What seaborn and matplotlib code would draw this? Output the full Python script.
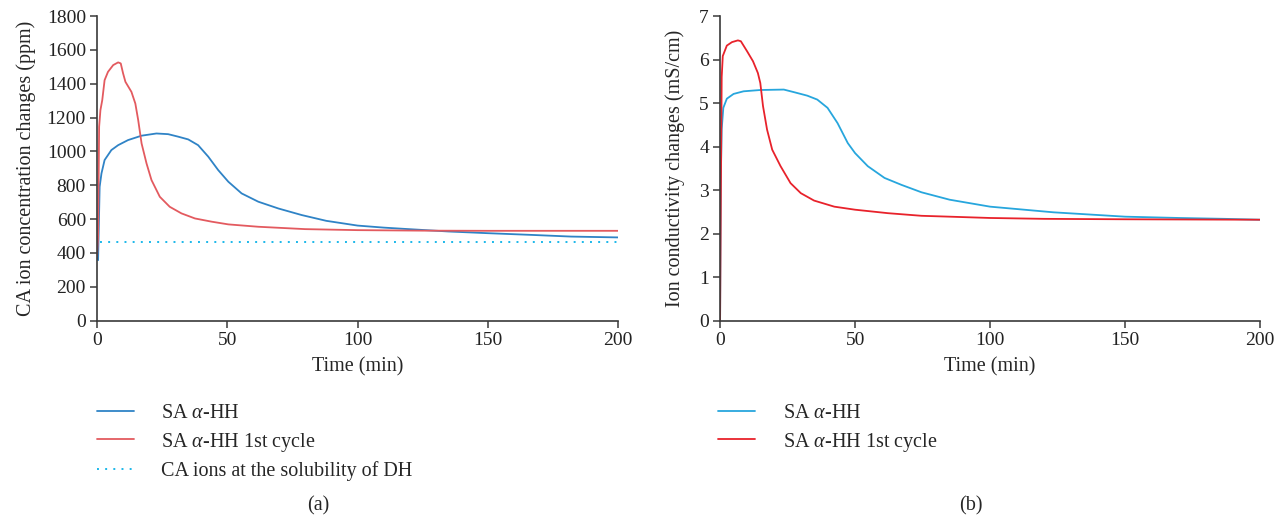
import matplotlib
matplotlib.use("Agg")
import matplotlib.pyplot as plt
import seaborn as sns

# ---- (a) CA ion concentration (ppm) ----
t_a_blue = [0, 0.4, 1, 1.7, 2.9, 5.5, 8.1, 11.9, 17.1, 22.8, 27.3, 31.2, 35, 38.8, 42.7,
            46.5, 50.4, 55.5, 61.9, 69.6, 78.6, 88, 100, 110, 119.6, 135, 150, 166.6,
            182, 200]
c_a_blue = [496, 358, 791, 870, 949, 1008, 1037, 1067, 1093, 1106, 1102, 1087, 1071,
            1037, 969, 890, 821, 752, 703, 663, 624, 590, 562, 550, 541, 527, 517, 507,
            497, 492]

t_a_red = [0, 0.4, 0.8, 1.3, 2, 2.9, 4.2, 6.2, 8.1, 9.1, 10, 10.9, 13.2, 14.7, 15.8,
           17.1, 19, 20.9, 24.1, 27.9, 32.4, 37.6, 44, 50.4, 61.9, 79.9, 100, 125, 150,
           200]
c_a_red = [380, 496, 1146, 1244, 1303, 1421, 1470, 1510, 1526, 1520, 1461, 1411, 1352,
           1283, 1185, 1047, 929, 831, 732, 673, 634, 604, 585, 569, 555, 541, 535, 532,
           531, 531]

t_dh = [1, 200]
c_dh = [465, 465]

# ---- (b) Ion conductivity (mS/cm) ----
t_b_blue = [0, 0.25, 0.6, 1.2, 2.5, 5, 8.7, 14.9, 23.6, 27.4, 32.3, 36, 39.8, 43.5, 47.3,
            50, 54.7, 60.9, 67.2, 74.6, 85, 100, 123.5, 150, 170, 187, 200]
k_b_blue = [0, 3.2, 4.4, 4.89, 5.1, 5.21, 5.27, 5.30, 5.31, 5.25, 5.17, 5.08, 4.89, 4.54,
            4.08, 3.85, 3.55, 3.28, 3.12, 2.95, 2.78, 2.62, 2.49, 2.39, 2.36, 2.34, 2.32]

t_b_red = [0, 0.3, 0.6, 1.0, 2.5, 4.4, 6.6, 7.7, 10, 12.2, 14, 14.9, 15.9, 17.4, 19.3,
           22.4, 26.1, 29.9, 34.8, 42.3, 50, 62.2, 74.6, 85, 100, 120, 150, 200]
k_b_red = [0, 3.0, 5.6, 6.08, 6.32, 6.40, 6.44, 6.42, 6.19, 5.96, 5.69, 5.46, 4.93, 4.39,
           3.93, 3.55, 3.16, 2.93, 2.76, 2.62, 2.55, 2.47, 2.41, 2.39, 2.36, 2.34, 2.33,
           2.32]

labels_a = [r"SA $\alpha$-HH", r"SA $\alpha$-HH 1st cycle", "CA ions at the solubility of DH"]
labels_b = [r"SA $\alpha$-HH", r"SA $\alpha$-HH 1st cycle"]

sns.set_theme(style="ticks")
plt.rcParams["font.family"] = ["Liberation Serif", "DejaVu Serif"]
plt.rcParams["mathtext.fontset"] = "custom"
plt.rcParams["mathtext.it"] = "Liberation Serif:italic"
plt.rcParams["mathtext.rm"] = "Liberation Serif"

FS = 14
AX_COLOR = "#3a3a3a"

fig = plt.figure(figsize=(12.87, 5.23), dpi=100)
ax1 = fig.add_axes([0.0754, 0.3868, 0.4048, 0.5826])
ax2 = fig.add_axes([0.5595, 0.3868, 0.4196, 0.5826])

sns.lineplot(x=t_a_blue, y=c_a_blue, ax=ax1, color="#2f83c6", lw=1.3, label=labels_a[0])
sns.lineplot(x=t_a_red, y=c_a_red, ax=ax1, color="#e35a5f", lw=1.3, label=labels_a[1])
sns.lineplot(x=t_dh, y=c_dh, ax=ax1, color="#1cb8ea", lw=1.4, linestyle=(0, (1, 3.2)),
             label=labels_a[2])

sns.lineplot(x=t_b_blue, y=k_b_blue, ax=ax2, color="#27a6dd", lw=1.3, label=labels_b[0])
sns.lineplot(x=t_b_red, y=k_b_red, ax=ax2, color="#e8222b", lw=1.3, label=labels_b[1])

ax1.set_xlim(0, 200)
ax1.set_ylim(0, 1800)
ax1.set_yticks(range(0, 1801, 200))
ax1.set_ylabel("CA ion concentration changes (ppm)", fontsize=14.5, labelpad=8)

ax2.set_xlim(0, 200)
ax2.set_ylim(0, 7)
ax2.set_yticks(range(0, 8))
ax2.set_ylabel("Ion conductivity changes (mS/cm)", fontsize=14.5, labelpad=10)

for ax in (ax1, ax2):
    ax.set_xticks([0, 50, 100, 150, 200])
    ax.set_xlabel("Time (min)", fontsize=14.5, labelpad=6)
    sns.despine(ax=ax)
    for s in ("left", "bottom"):
        ax.spines[s].set_color(AX_COLOR)
        ax.spines[s].set_linewidth(1.2)
    ax.tick_params(axis="both", direction="out", length=5, width=1.1, color=AX_COLOR,
                   labelsize=FS, labelcolor="#222222", pad=3)
    ax.margins(0)

leg_kw = dict(frameon=False, fontsize=14.5, handlelength=1.85, handletextpad=1.35,
              labelspacing=0.38, borderaxespad=0, borderpad=0, loc="upper left")
ax1.legend(bbox_to_anchor=(0.0754, 0.228), bbox_transform=fig.transFigure, **leg_kw)
ax2.legend(bbox_to_anchor=(0.558, 0.228), bbox_transform=fig.transFigure, **leg_kw)

fig.text(0.247, 0.032, "(a)", fontsize=14.5, ha="center", va="center")
fig.text(0.754, 0.032, "(b)", fontsize=14.5, ha="center", va="center")

fig.savefig("out.png", dpi=100, facecolor="white")
